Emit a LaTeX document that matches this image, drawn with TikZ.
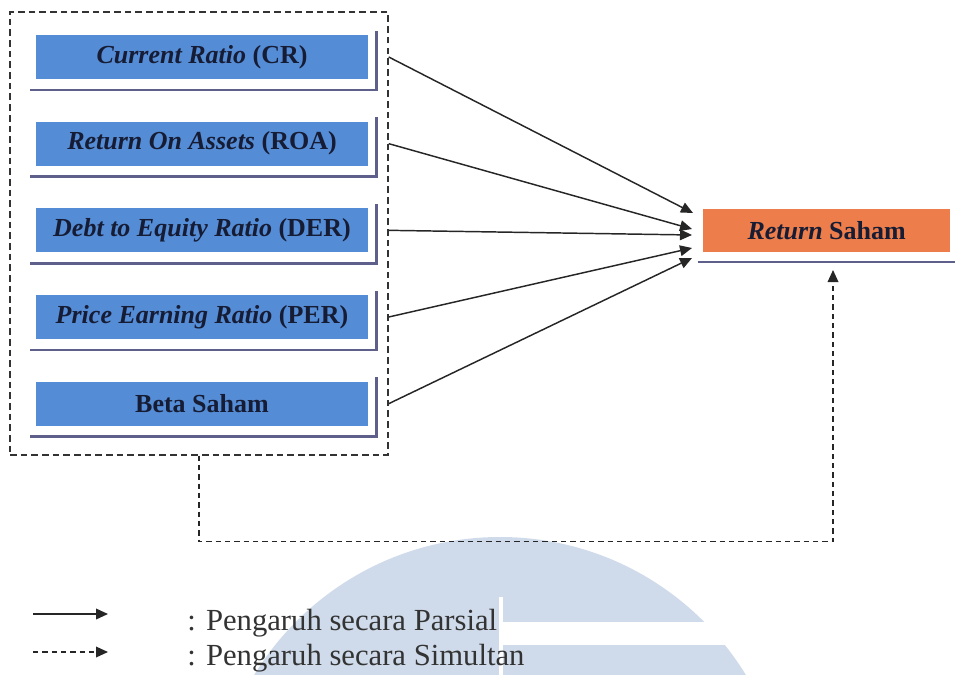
\documentclass[tikz,border=0pt]{standalone}
\usepackage{fontspec}
\setmainfont{Liberation Serif}
\usetikzlibrary{arrows.meta,positioning}

\definecolor{boxblue}{RGB}{84,140,214}
\definecolor{boxorange}{RGB}{237,125,75}
\definecolor{shadowline}{RGB}{95,95,140}
\definecolor{inktext}{RGB}{22,28,52}
\definecolor{umnmark}{RGB}{207,219,234}

\begin{document}
\begin{tikzpicture}[x=0.75pt, y=-0.75pt, node distance=65pt,
                    var node/.style={rectangle,fill=boxblue,minimum width=249pt,minimum height=33pt,
                      inner sep=0pt,text=inktext,font=\fontsize{19.5}{22}\selectfont\bfseries},
                    dep node/.style={var node,fill=boxorange,minimum width=185pt,minimum height=32pt},
                    frame node/.style={rectangle,draw=black!80,line width=1.1pt,dash pattern=on 5pt off 3pt,
                      minimum width=283.5pt,minimum height=332pt,inner sep=0pt},
                    shade line/.style={shadowline,line width=2pt},
                    partial/.style={draw=black!85,line width=1.1pt,-{Triangle[length=9pt,width=8pt]}},
                    simul/.style={partial,line width=1pt,dash pattern=on 4pt off 3pt},
                    legend text/.style={text=black!80,font=\fontsize{23}{26}\selectfont,inner sep=0pt}]

  \useasboundingbox (0,0) rectangle (955,674);

  % watermark
  \begin{scope}
    \clip (0,0) rectangle (955,674);
    \fill[umnmark] (500,825) circle[radius=216pt];
    \fill[white] (499,597) rectangle (503,680);
    \fill[white] (503,622) rectangle (800,645);
  \end{scope}

  \node[frame node] (frame) at (199,233.5) {};

  \node[var node] (cr) at (202,57) {\textit{Current Ratio} (CR)};
    \node[var node] (roa) [below of=cr] {\textit{Return On Assets} (ROA)};
      \node[var node] (der) [below of=roa] {\textit{Debt to Equity Ratio} (DER)};
        \node[var node] (per) [below of=der] {\textit{Price Earning Ratio} (PER)};
          \node[var node] (beta) [below of=per] {Beta Saham};
  \node[dep node] (ret) [right of=der, node distance=468.5pt] {\textit{Return} Saham};

  \foreach \n in {cr,roa,der,per,beta}
    \draw[shade line] ([xshift=-4pt,yshift=-8pt]\n.south west) -| ([xshift=6pt,yshift=3pt]\n.north east);
  \draw[shade line] ([xshift=-4pt,yshift=-7.5pt]ret.south west) -- ([xshift=6pt,yshift=-7.5pt]ret.south east);

  \coordinate (t1) at (693,213);
  \coordinate (t2) at (692,229);
  \coordinate (t3) at (692,235);
  \coordinate (t4) at (692,248);
  \coordinate (t5) at (692,258);
  \coordinate (simtip) at (833,270);

\path[every edge/.style={partial}]
    (cr -| frame.east) edge (t1)
    (roa -| frame.east) edge (t2)
    (der -| frame.east) edge (t3)
    (per -| frame.east) edge (t4)
    (beta -| frame.east) edge (t5);

  \draw[simul] (frame.south) -- ++(0,86) -| (simtip);

  % legend
  \node[legend text,anchor=base west] (lp) at (187,630) {: Pengaruh secara Parsial};
  \node[legend text,anchor=base west] (ls) at (187,665) {: Pengaruh secara Simultan};
  \coordinate (lpa) at (33,614);
  \coordinate (lpb) at (108,614);
  \coordinate (lsa) at (33,652);
  \coordinate (lsb) at (108,652);
  \draw[partial] (lpa) -- (lpb);
  \draw[simul] (lsa) -- (lsb);

\end{tikzpicture}
\end{document}
